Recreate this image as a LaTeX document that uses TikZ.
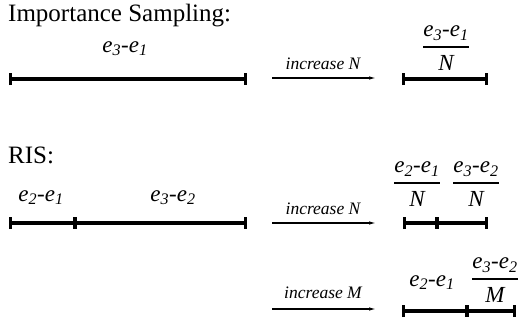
\documentclass[tikz,border=0pt]{standalone}
\usepackage{amsmath}
\usepackage{fontspec}
\setmainfont{Liberation Serif}
\usepackage{tikz}
\usetikzlibrary{arrows.meta,positioning}

\newcommand{\diff}[2]{\textit{e\textsubscript{#1}-e\textsubscript{#2}}}
\newcommand{\share}[2]{$\genfrac{}{}{1.5pt}{0}{\text{\diff#1}}{\textit{#2}}$}

\begin{document}
\begin{tikzpicture}[
x=1pt, y=-1pt,
seg/.style={line width=3.5pt, {Bar[width=12pt,line width=3pt]}-{Bar[width=12pt,line width=3pt]}},
tick/.style={fill, inner sep=0pt, minimum width=3.5pt, minimum height=12pt},
rise/.style={-{Latex[length=7pt,width=3.5pt]}, line width=1.1pt},
head/.style={font=\fontsize{25}{30}\selectfont, anchor=base west, inner sep=0pt},
lbl/.style={font=\fontsize{23}{27}\selectfont, inner sep=0pt},
note/.style={font=\fontsize{17.5}{21}\selectfont\itshape, anchor=base, inner sep=0pt}
]
\useasboundingbox (0,0) rectangle (518,322);

% importance sampling
\node[head] (is) at (8,21) {Importance Sampling:};
\coordinate (is1) at (9,79);
\coordinate (is2) at (247,79);
\node[lbl, anchor=base] (isl) at (125,52) {\diff31};
\draw[seg] (is1) -- (is2);

\coordinate (ga) at (272,78);
\coordinate (gb) at (376,78);
\node[note] (gn) at (323,69) {increase N};
\draw[rise] (ga) -- (gb);

\coordinate (isn1) at (402,79);
\coordinate (isn2) at (488,79);
\node[lbl] (isnl) at (446,48) {\share{31}{N}};
\draw[seg] (isn1) -- (isn2);

% RIS
\node[head] (ris) at (8,163) {RIS:};
\coordinate (r1) at (9,223);
\node[tick] (r2) at (75,223) {};
\coordinate (r3) at (247,223);
\node[lbl, anchor=base] (rl1) at (41,201) {\diff21};
\node[lbl, anchor=base] (rl2) at (173,201) {\diff32};
\draw[seg] (r1) -- (r3);

\coordinate (ha) at (272,223);
\coordinate (hb) at (376,223);
\node[note] (hn) at (323,214) {increase N};
\draw[rise] (ha) -- (hb);

\coordinate (rn1) at (403,223);
\node[tick] (rn2) at (437,223) {};
\coordinate (rn3) at (488,223);
\node[lbl] (rnl1) at (417,184) {\share{21}{N}};
\node[lbl] (rnl2) at (476,184) {\share{32}{N}};
\draw[seg] (rn1) -- (rn3);

\coordinate (ka) at (272,309);
\coordinate (kb) at (376,309);
\node[note] (kn) at (323,298) {increase M};
\draw[rise] (ka) -- (kb);

\coordinate (rm1) at (402,311);
\node[tick] (rm2) at (467,311) {};
\coordinate (rm3) at (516,311);
\node[lbl, anchor=base] (rml1) at (432,286) {\diff21};
\node[lbl] (rml2) at (495,280) {\share{32}{M}};
\draw[seg] (rm1) -- (rm3);
\end{tikzpicture}
\end{document}
